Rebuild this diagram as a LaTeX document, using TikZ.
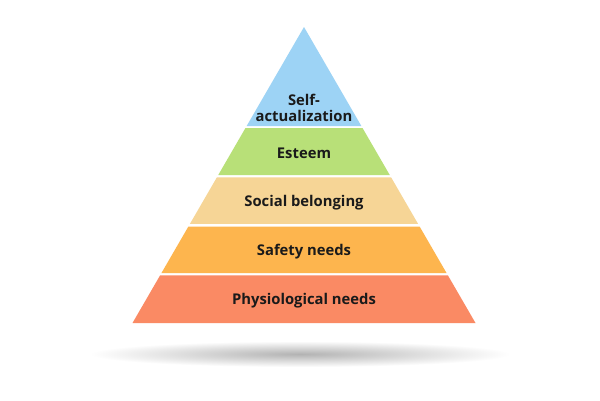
\documentclass[tikz,border=0pt]{standalone}
\usepackage{fontspec}
\setmainfont{Open Sans}
\usetikzlibrary{calc}
\definecolor{cblue}{RGB}{157,211,245}
\definecolor{cgreen}{RGB}{184,224,120}
\definecolor{cbeige}{RGB}{246,213,150}
\definecolor{corange}{RGB}{253,181,78}
\definecolor{csalmon}{RGB}{250,138,100}
\definecolor{ctext}{RGB}{26,26,26}
\tikzset{
  lbl/.style={font=\bfseries\fontsize{14.8}{16}\selectfont, text=ctext, align=center, inner sep=0pt},
}
\begin{document}
\begin{tikzpicture}[x=1pt,y=-1pt]
\useasboundingbox[fill=white] (0,0) rectangle (600,400);
% shadow
\shade[inner color=black!30, outer color=white] (300,354) ellipse (210 and 13);
% pyramid geometry
\coordinate (A) at (304,27);
\coordinate (BL) at (132.5,323);
\coordinate (BR) at (475.5,323);
% layers: t = (y-27)/296
\fill[cblue] (A) -- ($(A)!0.3345!(BL)$) -- ($(A)!0.3345!(BR)$) -- cycle;
\fill[cgreen] ($(A)!0.3412!(BL)$) -- ($(A)!0.5000!(BL)$) -- ($(A)!0.5000!(BR)$) -- ($(A)!0.3412!(BR)$) -- cycle;
\fill[cbeige] ($(A)!0.5084!(BL)$) -- ($(A)!0.6655!(BL)$) -- ($(A)!0.6655!(BR)$) -- ($(A)!0.5084!(BR)$) -- cycle;
\fill[corange] ($(A)!0.6740!(BL)$) -- ($(A)!0.8311!(BL)$) -- ($(A)!0.8311!(BR)$) -- ($(A)!0.6740!(BR)$) -- cycle;
\fill[csalmon] ($(A)!0.8395!(BL)$) -- (BL) -- (BR) -- ($(A)!0.8395!(BR)$) -- cycle;
% labels
\node[lbl] (l1) at (304,107.5) {Self-\\actualization};
\node[lbl] (l2) at (304,153) {Esteem};
\node[lbl] (l3) at (304,202.5) {Social belonging};
\node[lbl] (l4) at (304,252) {Safety needs};
\node[lbl] (l5) at (304,301) {Physiological needs};
\end{tikzpicture}
\end{document}
